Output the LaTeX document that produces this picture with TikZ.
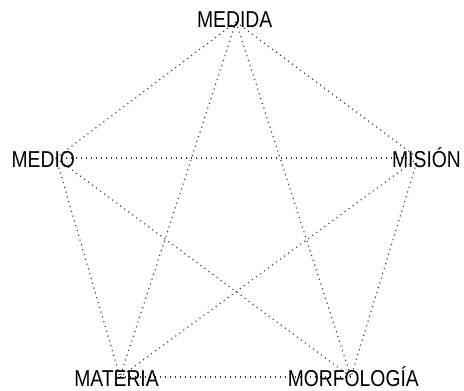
\documentclass[tikz,border=0pt]{standalone}
\usepackage{fontspec}
\setmainfont[FakeStretch=0.84]{Liberation Sans}
\begin{document}
\begin{tikzpicture}[x=1pt,y=-1pt,
  edge/.style={line width=1.1pt, dash pattern=on 1.1pt off 3.9pt, black!80},
  lbl/.style={inner sep=0pt, anchor=base, font=\fontsize{23}{23}\selectfont}]
\useasboundingbox (0,0) rectangle (464,391);
\coordinate (a) at (236,22);
\coordinate (b) at (56,158);
\coordinate (c) at (418,158);
\coordinate (d) at (120,377);
\coordinate (e) at (351,377);
\draw[edge] (a) -- (b);
\draw[edge] (a) -- (c);
\draw[edge] (a) -- (d);
\draw[edge] (a) -- (e);
\draw[edge] (b) -- (c);
\draw[edge] (b) -- (d);
\draw[edge] (b) -- (e);
\draw[edge] (c) -- (d);
\draw[edge] (c) -- (e);
\draw[edge] (d) -- (e);
\node[lbl] (ta) at (234.7,27.7) {MEDIDA};
\node[lbl] (tb) at (43.3,167.7) {MEDIO};
\node[lbl] (tc) at (426.5,167.7) {MISIÓN};
\node[lbl] (td) at (116.5,386.2) {MATERIA};
\node[lbl] (te) at (353.3,386.5) {MORFOLOGÍA};
\end{tikzpicture}
\end{document}
